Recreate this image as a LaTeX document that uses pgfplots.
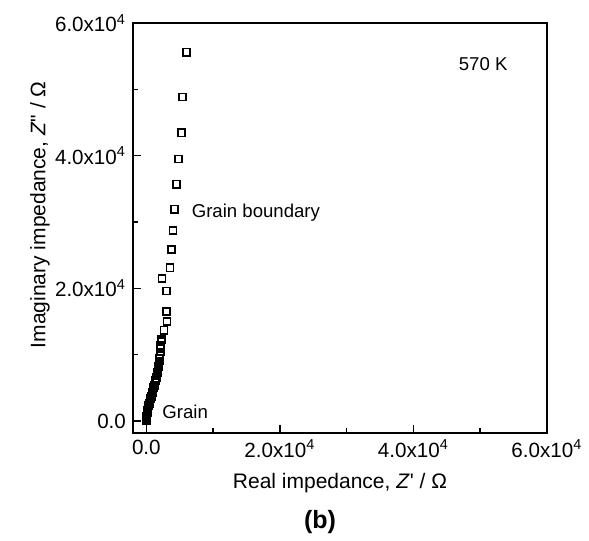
\documentclass[border=0pt]{standalone}
\usepackage{fontspec}
\setmainfont{Liberation Sans}
\usepackage{pgfplots}
\pgfplotsset{compat=1.18}
\begin{document}
\begin{tikzpicture}
\begin{axis}[
  scale only axis,
  width=207pt, height=205pt,
  xmin=-2000, xmax=60000,
  ymin=-1800, ymax=60000,
  axis line style={line width=0.8pt},
  xtick={0,20000,40000,60000},
  xticklabels={0.0,2.0x10\textsuperscript{4},4.0x10\textsuperscript{4},6.0x10\textsuperscript{4}},
  ytick={0,20000,40000,60000},
  yticklabels={0.0,2.0x10\textsuperscript{4},4.0x10\textsuperscript{4},6.0x10\textsuperscript{4}},
  minor xtick={10000,30000,50000},
  minor ytick={10000,30000,50000},
  xtick pos=left, ytick pos=left,
  tick align=inside,
  major tick length=4pt, minor tick length=2.5pt,
  tick style={line width=0.7pt, black},
  scaled ticks=false,
  every tick label/.style={font=\fontsize{10.3}{12}\selectfont},
  xlabel={Real impedance, \textit{Z}\textquotesingle{} / Ω},
  ylabel={Imaginary impedance, \textit{Z}\textquotedbl{} / Ω},
  label style={font=\fontsize{10.5}{12}\selectfont},
  xlabel style={at={(axis description cs:0.5,-0.122)}, anchor=center},
  ylabel style={at={(axis description cs:-0.2246,0.532)}, anchor=center},
  clip=false,
]
\addplot[only marks, mark=square, mark size=1.8pt, mark options={line width=0.85pt, black}] coordinates {
(0,100) (0,400) (50,700) (100,1000) (150,1300) (200,1600) (250,2000) (350,2350)
(450,2700) (550,3000) (650,3350) (750,3700) (850,4000) (950,4350) (1000,4700)
(1100,5000) (1200,5350) (1300,5700) (1400,6100) (1500,6500) (1600,6850)
(1700,7300) (1750,7700) (1850,8150) (1900,8600) (1950,9050) (2000,9500)
(2050,10000) (2100,10400) (2100,10900) (2150,11400) (2200,12000) (2300,12300)
(2650,13700) (3100,15000) (3000,16500) (3000,19600) (2350,21500) (3550,23100)
(3800,25850) (4000,28700) (4200,31950) (4550,35700) (4800,39500) (5250,43450)
(5400,48850) (6000,55600)
};
\node[anchor=center, font=\fontsize{9.3}{11}\selectfont] at (axis cs:50450,53800) {570 K};
\node[anchor=west, inner sep=0pt, font=\fontsize{9.3}{11}\selectfont] at (axis cs:6750,31450) {Grain boundary};
\node[anchor=west, inner sep=0pt, font=\fontsize{9.3}{11}\selectfont] at (axis cs:2350,1350) {Grain};
\node[anchor=center, font=\bfseries\fontsize{12.5}{14}\selectfont] at (axis description cs:0.452,-0.217) {(b)};
\end{axis}
\path (current axis.south west) ++(-66.5pt,-53pt) coordinate (bbA);
\path (current axis.north east) ++(21pt,11.5pt) coordinate (bbB);
\useasboundingbox (bbA) rectangle (bbB);
\end{tikzpicture}
\end{document}
